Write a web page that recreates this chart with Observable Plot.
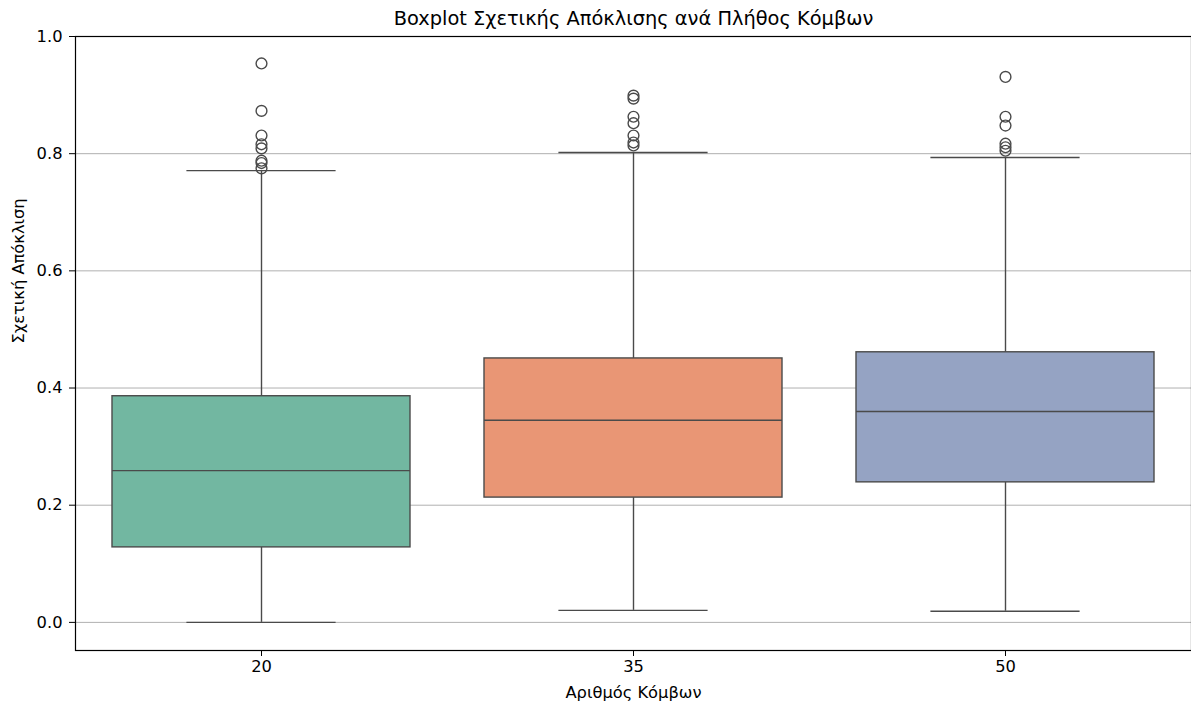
<!DOCTYPE html>
<html><head><meta charset="utf-8">
<script src="https://cdn.jsdelivr.net/npm/d3@7"></script>
<script src="https://cdn.jsdelivr.net/npm/@observablehq/plot@0.6"></script>
<style>body{margin:0;background:#fff;} svg{font-family:"DejaVu Sans";}</style>
</head><body><div id="chart"></div>
<script>
const categories = ["20", "35", "50"];
const q1 = [0.128, 0.213, 0.239];
const median = [0.259, 0.345, 0.360];
const q3 = [0.386, 0.4505, 0.461];
const whiskerLow = [0.0, 0.0205, 0.019];
const whiskerHigh = [0.771, 0.802, 0.7935];
const outliers20 = [0.954, 0.873, 0.831, 0.816, 0.809, 0.788, 0.784, 0.775];
const outliers35 = [0.899, 0.894, 0.863, 0.852, 0.831, 0.819, 0.814];
const outliers50 = [0.931, 0.863, 0.848, 0.817, 0.811, 0.805];
const yTicks = [0, 0.2, 0.4, 0.6, 0.8, 1.0];
const title = "Boxplot Σχετικής Απόκλισης ανά Πλήθος Κόμβων";
const xLabel = "Αριθμός Κόμβων";
const yLabel = "Σχετική Απόκλιση";

const stats = categories.map((c, i) => ({cat: c, q1: q1[i], med: median[i], q3: q3[i], lo: whiskerLow[i], hi: whiskerHigh[i]}));
const outliers = [
  ...outliers20.map(v => ({cat: "20", v})),
  ...outliers35.map(v => ({cat: "35", v})),
  ...outliers50.map(v => ({cat: "50", v}))
];
const lc = "#4a4a4a";
const lw = 1.4;
const fs = 16.3;

const chart = Plot.plot({
  width: 1191, height: 704,
  marginLeft: 75, marginRight: 0, marginTop: 36, marginBottom: 54,
  style: {fontFamily: "DejaVu Sans", fontSize: fs + "px", color: "#000", background: "#fff"},
  x: {type: "band", domain: categories, paddingInner: 0.2, paddingOuter: 0.1, label: null},
  y: {domain: [-0.048, 1.0], label: null},
  color: {domain: categories, range: ["#72b7a1", "#e99675", "#95a3c3"]},
  marks: [
    Plot.gridY(yTicks, {stroke: "#b0b0b0", strokeOpacity: 1, strokeWidth: 1}),
    Plot.ruleX(stats, {x: "cat", y1: "lo", y2: "q1", stroke: lc, strokeWidth: lw}),
    Plot.ruleX(stats, {x: "cat", y1: "q3", y2: "hi", stroke: lc, strokeWidth: lw}),
    Plot.tickY(stats, {x: "cat", y: "lo", insetLeft: 74.4, insetRight: 74.4, stroke: lc, strokeWidth: lw}),
    Plot.tickY(stats, {x: "cat", y: "hi", insetLeft: 74.4, insetRight: 74.4, stroke: lc, strokeWidth: lw}),
    Plot.barY(stats, {x: "cat", y1: "q1", y2: "q3", fill: "cat", stroke: lc, strokeWidth: lw}),
    Plot.tickY(stats, {x: "cat", y: "med", stroke: lc, strokeWidth: lw}),
    Plot.dot(outliers, {x: "cat", y: "v", r: 5.4, stroke: lc, fill: "none", strokeWidth: 1.4}),
    Plot.axisY(yTicks, {tickSize: 6, tickPadding: 7, tickFormat: d3.format(".1f"), fontSize: fs, label: null}),
    Plot.axisX({tickSize: 6, tickPadding: 4, fontSize: fs, label: null}),
    Plot.frame({stroke: "#000", strokeWidth: 1.2}),
    Plot.text([title], {text: d => d, frameAnchor: "top", lineAnchor: "middle", dy: -18, fontSize: 19.4, fill: "#000"}),
    Plot.text([xLabel], {text: d => d, frameAnchor: "bottom", lineAnchor: "middle", dy: 42, fontSize: fs, fill: "#000"}),
    Plot.text([yLabel], {text: d => d, frameAnchor: "left", lineAnchor: "middle", dx: -57, rotate: -90, fontSize: fs, fill: "#000"})
  ]
});
document.getElementById("chart").append(chart);
</script></body></html>
